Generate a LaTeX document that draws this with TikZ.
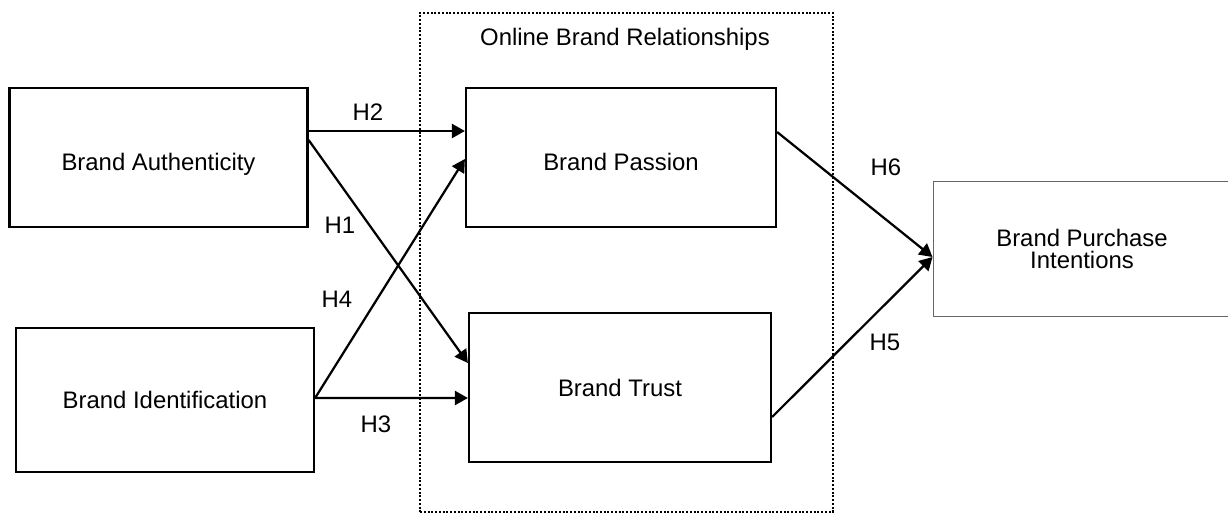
\documentclass[tikz,border=0pt]{standalone}
\usepackage{fontspec}
\setmainfont{Liberation Sans}
\usetikzlibrary{arrows.meta,calc}

\begin{document}
\begin{tikzpicture}[x=0.02cm, y=-0.02cm,
        box/.style={rectangle, draw=black, line width=0.045cm, inner sep=0pt, align=center},
        hyp/.style={-{Triangle[length=0.26cm, width=0.28cm]}, line width=0.045cm},
        every node/.style={font=\fontsize{13.6}{13}\selectfont}]
        \useasboundingbox[fill=white] (0,0) rectangle (1228,514);
        % online brand relationships frame
        \node[rectangle, draw=black, line width=0.04cm, dash pattern=on 0.04cm off 0.035cm, minimum width=8.26cm, minimum height=9.98cm] (rel) at (626.5,262.5) {};
        \node (reltitle) at (625,39) {Online Brand Relationships};
        % constructs
        \node[box, minimum width=5.96cm, minimum height=2.78cm, text height=17.5pt, text depth=2.9pt] (auth) at (158.5,157.5) {Brand Authenticity};
        \node[box, minimum width=5.96cm, minimum height=2.88cm] (ident) at (165,400) {Brand Identification};
        \node[box, minimum width=6.20cm, minimum height=2.78cm, text height=17.5pt, text depth=2.9pt] (passion) at (621,157.5) {Brand Passion};
        \node[box, minimum width=6.04cm, minimum height=2.98cm] (trust) at (620,387.5) {Brand Trust};
        \node[box, draw=black!60, line width=0.02cm, minimum width=5.96cm, minimum height=2.72cm] (purchase) at (1082,249) {Brand Purchase\\Intentions};
        % hypotheses
        \draw[hyp] ($(auth.east)+(0,-26.5)$) -- ($(passion.west)+(0,-26.5)$);
        \draw[hyp] ($(auth.east)+(0,-17.5)$) -- ($(trust.west)+(0,-24.5)$);
        \draw[hyp] ($(ident.east)+(0,-2)$) -- ($(passion.west)+(0,1.5)$);
        \draw[hyp] ($(ident.east)+(0,-2)$) -- ($(trust.west)+(0,10.5)$);
        \draw[hyp] ($(passion.east)+(0,-25.5)$) -- ($(purchase.west)+(0,8)$);
        \draw[hyp] ($(trust.east)+(0,29.5)$) -- ($(purchase.west)+(0,8)$);
        \node (h2) at (368,112) {H2};
        \node (h1) at (340,225) {H1};
        \node (h4) at (337,299) {H4};
        \node (h3) at (376,424) {H3};
        \node (h6) at (886,167) {H6};
        \node (h5) at (885,342) {H5};
    \end{tikzpicture}
\end{document}
